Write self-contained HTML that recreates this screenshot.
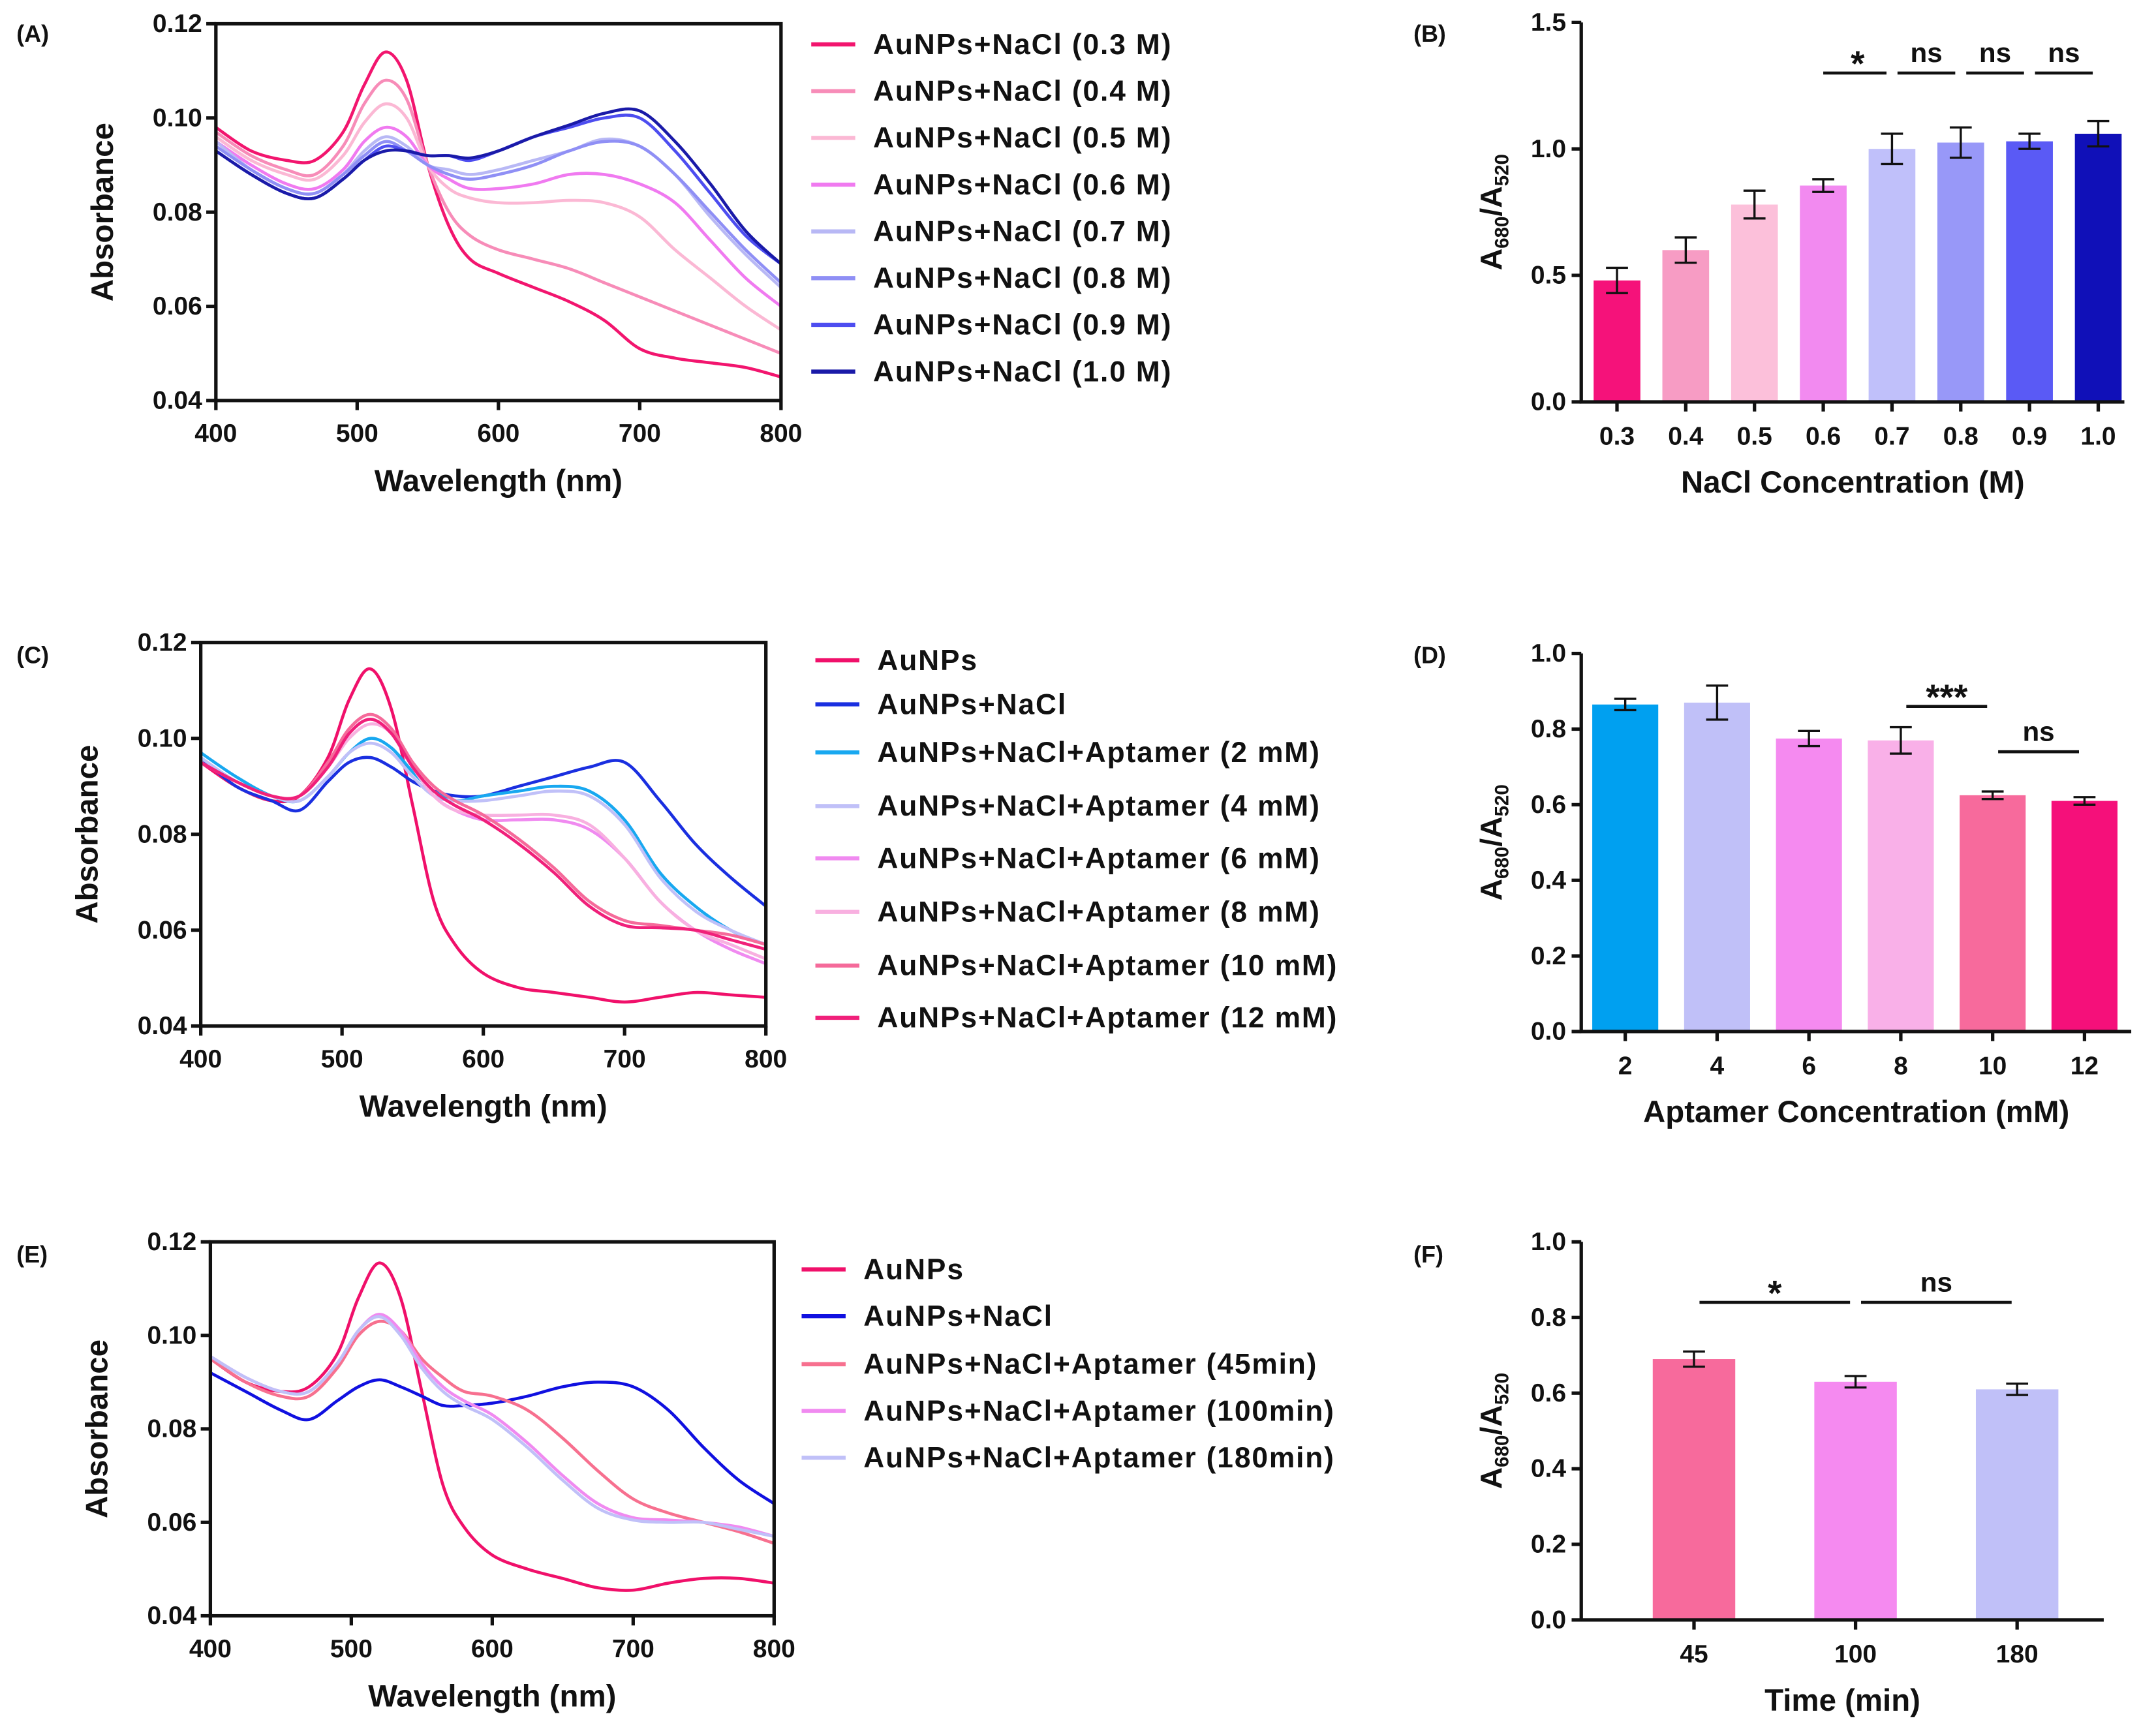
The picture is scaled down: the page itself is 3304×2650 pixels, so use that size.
<!DOCTYPE html>
<html><head><meta charset="utf-8">
<style>
html,body{margin:0;padding:0;background:#fff;}
svg{display:block;}
text{font-family:"Liberation Sans",Arial,sans-serif;font-weight:bold;fill:#111;}
</style></head>
<body>
<svg id="fig" xmlns="http://www.w3.org/2000/svg" width="3304" height="2650" viewBox="0 0 1568 1257"></svg>
<script>
// ---------- DATA ----------
const W = [400,425,450,470,490,505,520,535,550,565,580,600,625,650,675,700,725,750,775,800];
const aLabels = ["AuNPs+NaCl (0.3 M)","AuNPs+NaCl (0.4 M)","AuNPs+NaCl (0.5 M)","AuNPs+NaCl (0.6 M)","AuNPs+NaCl (0.7 M)","AuNPs+NaCl (0.8 M)","AuNPs+NaCl (0.9 M)","AuNPs+NaCl (1.0 M)"];
const aColors = ["#f2156e","#f78cb8","#fbb8d4","#f07af0","#b8b8f5","#8f8ff5","#4d4df0","#1a1aa8"];
const a03 = [0.098,0.093,0.091,0.091,0.097,0.107,0.114,0.108,0.090,0.077,0.070,0.067,0.064,0.061,0.057,0.051,0.049,0.048,0.047,0.045];
const a04 = [0.097,0.092,0.089,0.088,0.094,0.103,0.108,0.104,0.090,0.080,0.075,0.072,0.070,0.068,0.065,0.062,0.059,0.056,0.053,0.050];
const a05 = [0.096,0.091,0.088,0.087,0.092,0.099,0.103,0.100,0.090,0.085,0.083,0.082,0.082,0.0825,0.082,0.079,0.072,0.066,0.060,0.055];
const a06 = [0.095,0.090,0.086,0.085,0.089,0.095,0.098,0.096,0.090,0.087,0.085,0.085,0.086,0.088,0.088,0.086,0.082,0.074,0.066,0.060];
const a07 = [0.095,0.089,0.085,0.084,0.088,0.093,0.096,0.094,0.090,0.089,0.088,0.089,0.091,0.093,0.0955,0.094,0.088,0.079,0.071,0.064];
const a08 = [0.094,0.089,0.085,0.084,0.088,0.092,0.095,0.093,0.090,0.088,0.087,0.088,0.090,0.093,0.095,0.094,0.088,0.080,0.072,0.065];
const a09 = [0.093,0.088,0.084,0.083,0.087,0.091,0.094,0.093,0.092,0.092,0.091,0.093,0.096,0.098,0.100,0.100,0.093,0.084,0.075,0.069];
const a10 = [0.093,0.088,0.084,0.083,0.087,0.091,0.093,0.093,0.092,0.092,0.0915,0.093,0.096,0.0985,0.101,0.1015,0.095,0.086,0.076,0.069];

const cLabels = ["AuNPs","AuNPs+NaCl","AuNPs+NaCl+Aptamer (2 mM)","AuNPs+NaCl+Aptamer (4 mM)","AuNPs+NaCl+Aptamer (6 mM)","AuNPs+NaCl+Aptamer (8 mM)","AuNPs+NaCl+Aptamer (10 mM)","AuNPs+NaCl+Aptamer (12 mM)"];
const cColors = ["#f0106a","#1a2fe0","#18a8f0","#c0c0f8","#f08af0","#f8b0e0","#f56a9a","#f0207a"];
const cAu  = [0.095,0.090,0.087,0.088,0.096,0.108,0.1145,0.106,0.086,0.066,0.057,0.051,0.048,0.047,0.046,0.045,0.046,0.047,0.0465,0.046];
const cNa  = [0.096,0.090,0.087,0.085,0.091,0.095,0.096,0.094,0.091,0.089,0.088,0.088,0.090,0.092,0.094,0.095,0.087,0.078,0.071,0.065];
const c2   = [0.097,0.092,0.088,0.087,0.092,0.097,0.100,0.098,0.093,0.089,0.087,0.088,0.089,0.090,0.089,0.083,0.072,0.065,0.060,0.057];
const c4   = [0.096,0.091,0.088,0.087,0.092,0.097,0.099,0.097,0.092,0.088,0.087,0.087,0.088,0.089,0.088,0.082,0.071,0.064,0.060,0.057];
const c6   = [0.095,0.091,0.088,0.088,0.094,0.101,0.104,0.101,0.094,0.088,0.085,0.083,0.083,0.083,0.081,0.075,0.066,0.060,0.056,0.053];
const c8   = [0.095,0.091,0.088,0.088,0.094,0.100,0.103,0.101,0.094,0.088,0.085,0.084,0.084,0.084,0.082,0.075,0.066,0.060,0.057,0.054];
const c10  = [0.095,0.091,0.088,0.088,0.095,0.102,0.105,0.102,0.095,0.090,0.087,0.084,0.079,0.073,0.066,0.062,0.061,0.060,0.059,0.057];
const c12  = [0.095,0.091,0.088,0.088,0.094,0.101,0.104,0.101,0.094,0.089,0.086,0.083,0.078,0.072,0.065,0.061,0.0605,0.060,0.058,0.056];

const eLabels = ["AuNPs","AuNPs+NaCl","AuNPs+NaCl+Aptamer (45min)","AuNPs+NaCl+Aptamer (100min)","AuNPs+NaCl+Aptamer (180min)"];
const eColors = ["#f0106a","#1010e0","#f7708f","#f08af0","#c0c0f8"];
const eAu  = [0.095,0.090,0.088,0.089,0.096,0.108,0.1155,0.108,0.088,0.068,0.059,0.053,0.050,0.048,0.046,0.0455,0.047,0.048,0.048,0.047];
const eNa  = [0.092,0.088,0.084,0.082,0.086,0.089,0.0905,0.089,0.087,0.085,0.085,0.0855,0.087,0.089,0.090,0.089,0.084,0.076,0.069,0.064];
const e45  = [0.095,0.090,0.087,0.087,0.093,0.100,0.103,0.101,0.095,0.091,0.088,0.087,0.084,0.078,0.071,0.065,0.062,0.060,0.058,0.0555];
const e100 = [0.0955,0.091,0.088,0.088,0.094,0.101,0.1045,0.101,0.094,0.089,0.086,0.083,0.077,0.070,0.064,0.061,0.0605,0.060,0.059,0.057];
const e180 = [0.0955,0.091,0.088,0.088,0.094,0.101,0.104,0.100,0.093,0.088,0.085,0.082,0.076,0.069,0.063,0.0605,0.060,0.060,0.0585,0.057];

const bCats = ["0.3","0.4","0.5","0.6","0.7","0.8","0.9","1.0"];
const bVals = [0.48,0.60,0.78,0.855,1.00,1.025,1.03,1.06];
const bErr  = [0.05,0.05,0.055,0.025,0.06,0.06,0.03,0.05];
const bColors = ["#f5127a","#f79cc4","#fcc0da","#f28af0","#c0c0fa","#9898f8","#5a5af5","#1010b8"];
const bSig = [[3,4,"*"],[4,5,"ns"],[5,6,"ns"],[6,7,"ns"]];

const dCats = ["2","4","6","8","10","12"];
const dVals = [0.865,0.87,0.775,0.77,0.625,0.61];
const dErr  = [0.015,0.045,0.02,0.035,0.01,0.01];
const dColors = ["#00a0f0","#c0c0f8","#f58af0","#f9b0e8","#f76a9c","#f5107a"];
const dSig = [[3,4,"***",0.86],[4,5,"ns",0.74]];

const fCats = ["45","100","180"];
const fVals = [0.69,0.63,0.61];
const fErr  = [0.02,0.015,0.015];
const fColors = ["#f76a9c","#f58af0","#c0c0f8"];
const fSig = [[0,1,"*",0.84],[1,2,"ns",0.84]];

// ---------- DRAWING ----------
const NS="http://www.w3.org/2000/svg";
const svg=document.getElementById('fig');
function mk(tag,attrs,parent,txt){const e=document.createElementNS(NS,tag);for(const k in attrs)e.setAttribute(k,attrs[k]);if(txt!==undefined)e.textContent=txt;(parent||svg).appendChild(e);return e;}
function smooth(pts){let d="M"+pts[0][0]+","+pts[0][1];for(let i=0;i<pts.length-1;i++){const p0=pts[Math.max(0,i-1)],p1=pts[i],p2=pts[i+1],p3=pts[Math.min(pts.length-1,i+2)];const c1x=p1[0]+(p2[0]-p0[0])/6,c1y=p1[1]+(p2[1]-p0[1])/6,c2x=p2[0]-(p3[0]-p1[0])/6,c2y=p2[1]-(p3[1]-p1[1])/6;d+=" C"+c1x.toFixed(2)+","+c1y.toFixed(2)+" "+c2x.toFixed(2)+","+c2y.toFixed(2)+" "+p2[0].toFixed(2)+","+p2[1].toFixed(2);}return d;}

function panelLabel(t,x,y){const e=mk('text',{x:x,y:y,'font-size':17},svg,t);}

function spectrum(id,box,series,colors,labels,leg){
  const g=mk('g',{});
  
  
  const [x0,x1,y0,y1]=box;
  const sx=v=>x0+(v-400)/400*(x1-x0), sy=v=>y1-(v-0.04)/0.08*(y1-y0);
  series.forEach((s,i)=>{
    const p=mk('path',{d:smooth(W.map((w,j)=>[sx(w),sy(s[j])])),fill:'none',stroke:colors[i],'stroke-width':2.2},g);
    
    
  });
  const fr=mk('rect',{x:x0,y:y0,width:x1-x0,height:y1-y0,fill:'none',stroke:'#111','stroke-width':2.5},g);
  
  
  [400,500,600,700,800].forEach(v=>{mk('line',{x1:sx(v),x2:sx(v),y1:y1,y2:y1+7,stroke:'#111','stroke-width':2.5},g);const t=mk('text',{x:sx(v),y:y1+30,'font-size':18.5,'text-anchor':'middle'},g,v);});
  [0.04,0.06,0.08,0.10,0.12].forEach(v=>{mk('line',{x1:x0-7,x2:x0,y1:sy(v),y2:sy(v),stroke:'#111','stroke-width':2.5},g);const t=mk('text',{x:x0-10,y:sy(v)+6,'font-size':18.5,'text-anchor':'end'},g,v.toFixed(2));});
  const xt=mk('text',{x:(x0+x1)/2,y:y1+66,'font-size':22.5,'text-anchor':'middle'},g,'Wavelength (nm)');
  
  
  const yt=mk('text',{x:0,y:0,'font-size':22.5,'text-anchor':'middle',transform:`translate(${x0-75},${(y0+y1)/2}) rotate(-90)`},g,'Absorbance');
  
  
  const [lx,ly,dy]=leg;
  let y=ly;
  labels.forEach((l,i)=>{y+=dy[i];
    const lg=mk('g',{},g);
    
    
    mk('line',{x1:lx,x2:lx+32,y1:y,y2:y,stroke:colors[i],'stroke-width':3},lg);
    mk('text',{x:lx+45,y:y+7,'font-size':21,'letter-spacing':0.9},lg,l);});
}

function bars(id,box,ymax,ystep,cats,vals,errs,colors,centers,bw,sig,xtitle,sigDefault){
  const g=mk('g',{});
  
  
  const [x0,x1,yTop,yBot]=box;
  const sy=v=>yBot-v/ymax*(yBot-yTop);
  const cx=i=>centers[0]+i*(centers[1]-centers[0])/(cats.length-1);
  vals.forEach((v,i)=>{
    const r=mk('rect',{x:cx(i)-bw/2,y:sy(v),width:bw,height:yBot-sy(v),fill:colors[i]},g);
    
    
    const e=errs[i],c=cx(i);
    const eb=mk('path',{d:`M${c},${sy(v+e)}V${sy(v-e)}M${c-8},${sy(v+e)}H${c+8}M${c-8},${sy(v-e)}H${c+8}`,stroke:'#111','stroke-width':1.6,fill:'none'},g);
    
    
    mk('line',{x1:c,x2:c,y1:yBot,y2:yBot+7,stroke:'#111','stroke-width':2.5},g);
    const t=mk('text',{x:c,y:yBot+31,'font-size':18.5,'text-anchor':'middle'},g,cats[i]);
    
    
  });
  mk('path',{d:`M${x0},${yTop}V${yBot}H${x1}`,stroke:'#111','stroke-width':2.5,fill:'none'},g);
  for(let v=0;v<=ymax+1e-9;v+=ystep){
    mk('line',{x1:x0-7,x2:x0,y1:sy(v),y2:sy(v),stroke:'#111','stroke-width':2.5},g);
    const t=mk('text',{x:x0-11,y:sy(v)+6,'font-size':18.5,'text-anchor':'end'},g,v.toFixed(1));
    
    
  }
  sig.forEach(s=>{const yv=s[3]!==undefined?s[3]:sigDefault;
    const sg=mk('g',{},g);
    
    
    mk('line',{x1:cx(s[0])+ (s[2]==='*'&&cats.length===8?0:4),x2:cx(s[1])-4,y1:sy(yv),y2:sy(yv),stroke:'#111','stroke-width':2.2},sg);
    mk('text',{x:(cx(s[0])+cx(s[1]))/2,y:sy(yv)-(s[2].indexOf('*')>=0?-2:8),'font-size':s[2].indexOf('*')>=0?26:20,'text-anchor':'middle'},sg,s[2]);
  });
  const xt=mk('text',{x:(x0+x1)/2,y:yBot+66,'font-size':22.5,'text-anchor':'middle'},g,xtitle);
  
  
  const yt=mk('text',{x:0,y:0,'font-size':22,'text-anchor':'middle',transform:`translate(${x0-58},${(yTop+yBot)/2}) rotate(-90)`},g);
  
  
  yt.innerHTML='A<tspan font-size="14" dy="5">680</tspan><tspan dy="-5">/A</tspan><tspan font-size="14" dy="5">520</tspan>';
}

panelLabel('(A)',12,30); panelLabel('(B)',1028,30);
panelLabel('(C)',12,482); panelLabel('(D)',1028,482);
panelLabel('(E)',12,918); panelLabel('(F)',1028,918);

spectrum('a',[157,568,17,291],[a03,a04,a05,a06,a07,a08,a09,a10],aColors,aLabels,[590,32,[0,34,34,34,34,34,34,34]]);
spectrum('c',[146,557,467,746],[cAu,cNa,c2,c4,c6,c8,c10,c12],cColors,cLabels,[593,480,[0,32,35,39,38,39,39,38]]);
spectrum('e',[153,563,903,1175],[eAu,eNa,e45,e100,e180],eColors,eLabels,[583,923,[0,34,35,34,34]]);

bars('b',[1150,1545,16,292],1.5,0.5,bCats,bVals,bErr,bColors,[1176,1526],34,bSig,'NaCl Concentration (M)',1.3);
bars('d',[1150,1550,475,750],1.0,0.2,dCats,dVals,dErr,dColors,[1182,1516],48,dSig,'Aptamer Concentration (mM)');
bars('f',[1150,1530,903,1178],1.0,0.2,fCats,fVals,fErr,fColors,[1232,1467],60,fSig,'Time (min)');
</script>
</body></html>
